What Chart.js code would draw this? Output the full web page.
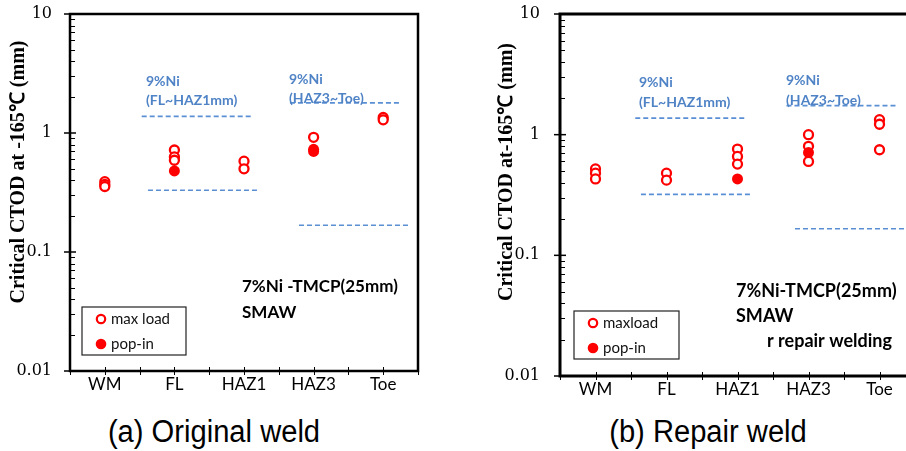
<!DOCTYPE html>
<html>
<head>
<meta charset="utf-8">
<script src="https://cdn.jsdelivr.net/npm/chart.js@4.4.1/dist/chart.umd.min.js"></script>
<style>
  body { margin: 0; background: #fff; }
  #wrap { position: relative; width: 906px; height: 451px; overflow: hidden; }
  canvas { position: absolute; top: 0; }
  #left { left: 0; }
  #right { left: 450px; }
  .caption {
    position: absolute; top: 414px; width: 320px; text-align: center;
    font-family: 'Liberation Sans', Arial, sans-serif; font-size: 31px; line-height: 36px; color: #000;
    transform: scaleX(0.94);
  }
</style>
</head>
<body>
<div id="wrap">
  <canvas id="left" width="450" height="400"></canvas>
  <canvas id="right" width="480" height="400"></canvas>
  <div class="caption" style="left:54px">(a) Original weld</div>
  <div class="caption" style="left:548px">(b) Repair weld</div>
</div>
<script>
// weld zones along the x axis
const categories = ['WM', 'FL', 'HAZ1', 'HAZ3', 'Toe'];
const yTicks = [0.01, 0.1, 1, 10];

// critical CTOD (mm), one list per zone
const maxLoadOriginal = [[0.39, 0.37, 0.355], [0.72, 0.63, 0.59], [0.58, 0.50], [0.92], [1.35, 1.29]];
const popInOriginal = [[], [0.48], [], [0.73, 0.70], []];
const maxLoadRepair = [[0.52, 0.48, 0.43], [0.48, 0.42], [0.76, 0.66, 0.57], [1.0, 0.80, 0.60], [1.33, 1.22, 0.75]];
const popInRepair = [[], [], [0.43], [0.71], []];

// 9%Ni scatter band limits: [zone from, zone to, CTOD]
const bandsOriginal = [[0.53, 2.10, 1.38], [0.62, 2.19, 0.33], [2.66, 4.23, 1.79], [2.79, 4.36, 0.168]];
const bandsRepair = [[0.56, 2.12, 1.37], [0.64, 2.21, 0.32], [2.69, 4.24, 1.74], [2.81, 4.36, 0.166]];

const RED = '#ff0000';
const BLUE = '#5b8fd3';
const BLUE_TEXT = '#4f83c6';

function toPoints(series) {
  return series.flatMap((vals, i) => vals.map(v => ({ x: i, y: v })));
}

// frame, ticks, notes and the boxed legend
const panelPlugin = {
  id: 'panel',
  beforeDatasetsDraw(chart, args, opts) {
    const ctx = chart.ctx;
    const { left, right, top, bottom } = chart.chartArea;
    const y = chart.scales.y, x = chart.scales.x;
    ctx.save();
    ctx.strokeStyle = '#000';
    // minor log ticks inside the axis, decades across it
    ctx.lineWidth = 1;
    for (let d = 0; d < yTicks.length - 1; d++) {
      for (let m = 2; m <= 9; m++) {
        const py = Math.round(y.getPixelForValue(yTicks[d] * m)) + 0.5;
        ctx.beginPath(); ctx.moveTo(left, py); ctx.lineTo(left + 5, py); ctx.stroke();
      }
    }
    ctx.lineWidth = 1.5;
    yTicks.forEach(v => {
      const py = y.getPixelForValue(v);
      ctx.beginPath(); ctx.moveTo(left - 6, py); ctx.lineTo(left + 6, py); ctx.stroke();
    });
    ctx.lineWidth = 1;
    for (let v = -0.5; v <= 4.5; v += 0.5) {
      const px = Math.round(x.getPixelForValue(v)) + 0.5;
      ctx.beginPath(); ctx.moveTo(px, bottom - 4); ctx.lineTo(px, bottom + 4); ctx.stroke();
    }
    ctx.lineWidth = opts.frame;
    ctx.strokeRect(left, top, right - left, bottom - top);

    // axis title, drawn a little above the middle of the axis
    ctx.translate(opts.titleX, 172);
    ctx.rotate(-Math.PI / 2);
    ctx.font = 'bold 20px "Liberation Serif", serif';
    ctx.fillStyle = '#000';
    ctx.textAlign = 'center';
    ctx.textBaseline = 'middle';
    ctx.fillText(opts.title, 0, 0);
    ctx.restore();
  },
  afterDraw(chart, args, opts) {
    const ctx = chart.ctx;
    ctx.save();
    ctx.textAlign = 'left';
    ctx.textBaseline = 'middle';
    ctx.fillStyle = BLUE_TEXT;
    ctx.font = 'bold 14px Lato, sans-serif';
    opts.blue.forEach(([t, px, py]) => ctx.fillText(t, px, py));
    ctx.fillStyle = '#000';
    ctx.font = 'bold ' + opts.noteSize + 'px Lato, sans-serif';
    opts.black.forEach(([t, px, py]) => ctx.fillText(t, px, py));

    const [bx, by, bw, bh] = opts.legend;
    ctx.fillStyle = '#fff';
    ctx.fillRect(bx, by, bw, bh);
    ctx.strokeStyle = '#222';
    ctx.lineWidth = 1.2;
    ctx.strokeRect(bx, by, bw, bh);
    const cx = bx + 19, y1 = by + 12, y2 = by + 37;
    ctx.beginPath(); ctx.arc(cx, y1, 4.2, 0, Math.PI * 2);
    ctx.strokeStyle = RED; ctx.lineWidth = 2.2; ctx.stroke();
    ctx.beginPath(); ctx.arc(cx, y2, 5.3, 0, Math.PI * 2);
    ctx.fillStyle = RED; ctx.fill();
    ctx.fillStyle = '#111';
    ctx.font = '15px Lato, sans-serif';
    ctx.fillText(opts.legendLabels[0], cx + 10, y1);
    ctx.fillText(opts.legendLabels[1], cx + 10, y2);
    ctx.restore();
  }
};

function makePanel(id, maxLoad, popIn, bands, layout, panel) {
  const datasets = [
    {
      data: toPoints(popIn), pointRadius: 5.5, pointBorderWidth: 0,
      pointBackgroundColor: RED, pointBorderColor: RED
    },
    {
      data: toPoints(maxLoad), pointRadius: 4.5, pointBorderWidth: 2.3,
      pointBackgroundColor: '#fff', pointBorderColor: RED
    }
  ];
  bands.forEach(([a, b, v]) => datasets.push({
    type: 'line', data: [{ x: a, y: v }, { x: b, y: v }],
    borderColor: BLUE, borderWidth: 1.6, borderDash: [5, 3], pointRadius: 0, fill: false
  }));

  return new Chart(document.getElementById(id), {
    type: 'scatter',
    data: { datasets },
    plugins: [panelPlugin],
    options: {
      responsive: false,
      animation: false,
      layout: { padding: { top: 14, right: layout.right, left: 0, bottom: 0 } },
      plugins: { legend: { display: false }, tooltip: { enabled: false }, panel },
      scales: {
        x: {
          type: 'linear', min: -0.5, max: 4.5,
          afterBuildTicks: s => { s.ticks = categories.map((c, i) => ({ value: i })); },
          afterFit: s => { s.height = layout.xHeight; s.paddingLeft = 0; s.paddingRight = 0; },
          ticks: {
            autoSkip: false, maxRotation: 0, padding: 3, color: '#000',
            font: { family: 'Lato', size: 17 },
            callback: v => categories[v]
          },
          grid: { display: false, drawTicks: false },
          border: { display: false }
        },
        y: {
          type: 'logarithmic', min: 0.01, max: 10,
          afterBuildTicks: s => { s.ticks = yTicks.map(v => ({ value: v })); },
          afterFit: s => { s.width = layout.yWidth; s.paddingTop = 0; s.paddingBottom = 0; },
          ticks: {
            padding: layout.yPad, color: '#000',
            font: { family: 'DejaVu Serif', size: 16 },
            callback: v => String(v)
          },
          grid: { display: false, drawTicks: false },
          border: { display: false }
        }
      }
    }
  });
}

makePanel('left', maxLoadOriginal, popInOriginal, bandsOriginal,
  { right: 32, xHeight: 29, yWidth: 70, yPad: 18 },
  {
    frame: 2.5, titleX: 19, title: 'Critical CTOD at -165\u2103 (mm)', noteSize: 17,
    blue: [['9%Ni', 146, 81], ['(FL~HAZ1mm)', 146, 100], ['9%Ni', 289, 79], ['(HAZ3~Toe)', 289, 98]],
    black: [['7%Ni -TMCP(25mm)', 242, 287], ['SMAW', 242, 313]],
    legend: [82, 307, 104, 48], legendLabels: ['max load', 'pop-in']
  });

makePanel('right', maxLoadRepair, popInRepair, bandsRepair,
  { right: 15, xHeight: 24, yWidth: 110, yPad: 20 },
  {
    frame: 3, titleX: 57, title: 'Critical CTOD at-165\u2103 (mm)', noteSize: 18,
    blue: [['9%Ni', 189, 82], ['(FL~HAZ1mm)', 189, 102], ['9%Ni', 336, 80], ['(HAZ3~Toe)', 336, 100]],
    black: [['7%Ni-TMCP(25mm)', 286, 291], ['SMAW', 286, 316], ['r repair welding', 317, 341]],
    legend: [124, 311, 105, 48], legendLabels: ['maxload', 'pop-in']
  });
</script>
</body>
</html>
